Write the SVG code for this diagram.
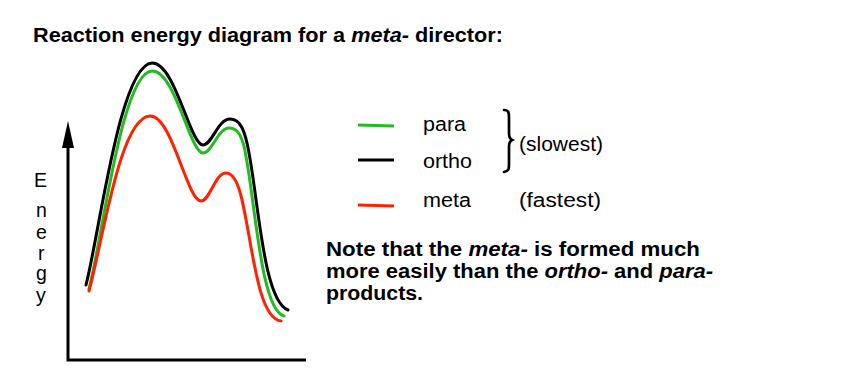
<svg xmlns="http://www.w3.org/2000/svg" width="862" height="386" viewBox="0 0 862 386">
<style>
text{font-family:"Liberation Sans",Arial,sans-serif;fill:#000}
.b{font-weight:bold;font-size:19.5px}
.r{font-size:19.5px}
.crv{fill:none;stroke-width:3;stroke-linecap:round;stroke-linejoin:round}
.ax{stroke:#000;stroke-width:3;fill:none}
</style>
<rect width="862" height="386" fill="#fff"/>
<text class="b" x="33" y="41.5" textLength="470" lengthAdjust="spacingAndGlyphs">Reaction energy diagram for a <tspan font-style="italic">meta-</tspan> director:</text>
<g id="axes">
<path class="ax" d="M68,140 V360 H306"/>
<path d="M68,121 L62,148 L74,148 Z" fill="#000"/>
</g>
<g id="ylabel" class="r">
<text x="34" y="187">E</text>
<text x="36" y="217">n</text>
<text x="36" y="239">e</text>
<text x="38" y="260">r</text>
<text x="36" y="280">g</text>
<text x="36" y="302">y</text>
</g>
<g id="curves">
<path class="crv" stroke="#000" d="M86,285 C100,230 120,65 152,63 C175,62 190,145 203,145 C212,145 218,119 230,119 C240,119 244,130 247,143 C258,190 262,300 288,310"/>
<path class="crv" stroke="#22bb22" d="M89,289 C103,235 122,72 152,71 C175,70 190,153 203,153 C212,153 218,128 229,128 C238,128 241,136 244,146 C255,195 260,310 284,316"/>
<path class="crv" stroke="#ff2200" d="M89,291 C103,240 120,117 150,116 C172,115 187,201 201,201 C210,201 215,173 226,173 C233,173 237,182 240,192 C252,235 256,318 281,321"/>
</g>
<g id="legend">
<line x1="358" y1="125" x2="394" y2="126" stroke="#22bb22" stroke-width="3"/>
<line x1="358" y1="160" x2="394" y2="160" stroke="#000" stroke-width="3"/>
<line x1="358" y1="205" x2="394" y2="206" stroke="#ff2200" stroke-width="3"/>
<text class="r" x="423" y="131" textLength="43" lengthAdjust="spacingAndGlyphs">para</text>
<text class="r" x="423" y="168" textLength="49" lengthAdjust="spacingAndGlyphs">ortho</text>
<text class="r" x="423" y="207" textLength="48" lengthAdjust="spacingAndGlyphs">meta</text>
<path d="M504,110 C509,110 509,113 509,118 V133 C509,137 510,139 512,140 C510,141 509,143 509,147 V164 C509,169 509,171 504,172" fill="none" stroke="#000" stroke-width="2.7" stroke-linecap="round"/>
<text class="r" x="519" y="151" textLength="84" lengthAdjust="spacingAndGlyphs">(slowest)</text>
<text class="r" x="519" y="207" textLength="82" lengthAdjust="spacingAndGlyphs">(fastest)</text>
</g>
<g id="note" class="b">
<text x="326" y="256" textLength="374" lengthAdjust="spacingAndGlyphs">Note that the <tspan font-style="italic">meta-</tspan> is formed much</text>
<text x="326" y="278" textLength="387" lengthAdjust="spacingAndGlyphs">more easily than the <tspan font-style="italic">ortho-</tspan> and <tspan font-style="italic">para-</tspan></text>
<text x="326" y="300" textLength="97" lengthAdjust="spacingAndGlyphs">products.</text>
</g>
</svg>
